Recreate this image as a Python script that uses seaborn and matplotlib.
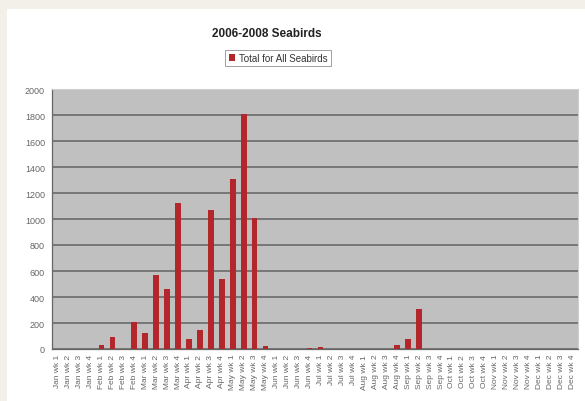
import matplotlib
matplotlib.use("Agg")
import matplotlib.pyplot as plt
import seaborn as sns
import pandas as pd

# weekly categories, Jan wk 1 .. Dec wk 4
months = ["Jan", "Feb", "Mar", "Apr", "May", "Jun",
          "Jul", "Aug", "Sep", "Oct", "Nov", "Dec"]
weeks = [f"{m} wk {n}" for m in months for n in range(1, 5)]

# totals (index -> count)
totals = [0, 0, 0, 0, 30, 90, 0, 205, 120, 570,
          460, 1120, 80, 150, 1070, 540, 1310, 1810, 1010, 25,
          0, 0, 0, 10, 15, 0, 0, 0, 0, 0,
          0, 33, 75, 310, 0, 0, 0, 0, 0, 0,
          0, 0, 0, 0, 0, 0, 0, 0]

yticks = list(range(0, 2001, 200))

data = pd.DataFrame({"Week": weeks, "Total for All Seabirds": totals})

sns.set_style("white")
plt.rcParams["font.family"] = ["Liberation Sans", "DejaVu Sans"]

fig = plt.figure(figsize=(5.85, 4.02), dpi=100, facecolor="#f3f0ea")
# white chart area inside the beige frame
fig.patches.append(plt.Rectangle((7 / 585, -0.01), 1, 1.01 - 10 / 402,
                                 transform=fig.transFigure, facecolor="white",
                                 edgecolor="none", zorder=-5))

ax = fig.add_axes([52 / 585, 1 - 350 / 402, 526 / 585, 260 / 402])
ax.set_facecolor("#c0c0c0")

sns.barplot(data=data, x="Week", y="Total for All Seabirds", ax=ax,
            color="#b3262b", saturation=1, width=0.5, linewidth=0,
            label="Total for All Seabirds", zorder=3)

ax.set_ylim(0, 2000)
ax.set_yticks(yticks)
ax.set_yticklabels([str(v) for v in yticks], fontsize=6.5, color="#666666")
ax.yaxis.grid(True, color="#777777", linewidth=1.4, zorder=1)
ax.set_axisbelow(True)
ax.tick_params(axis="y", length=3, width=0.8, color="#777777", pad=2)
ax.tick_params(axis="x", length=2, width=0.6, color="#777777", pad=1.5)
ax.set_xticks(range(len(weeks)))
ax.set_xticklabels(weeks, rotation=90, fontsize=6, color="#666666")
ax.set_xlabel("")
ax.set_ylabel("")
ax.set_xlim(-0.5, len(weeks) - 0.5)
for side in ["top", "right"]:
    ax.spines[side].set_color("#d0d0d0")
for side in ["left", "bottom"]:
    ax.spines[side].set_color("#666666")
    ax.spines[side].set_linewidth(0.9)

fig.text(267 / 585, 1 - 34 / 402, "2006-2008 Seabirds", ha="center", va="center",
         fontsize=8.5, fontweight="bold", color="#222222")

leg = ax.legend(loc="center", bbox_to_anchor=(278 / 585, 1 - 59 / 402), bbox_transform=fig.transFigure,
                fontsize=7, frameon=True, fancybox=False, handlelength=0.6,
                handleheight=0.7, handletextpad=0.4, borderpad=0.35)
leg.get_frame().set_edgecolor("#888888")
leg.get_frame().set_linewidth(0.7)
for t in leg.get_texts():
    t.set_color("#333333")

fig.savefig("out.png", dpi=100, facecolor=fig.get_facecolor())
